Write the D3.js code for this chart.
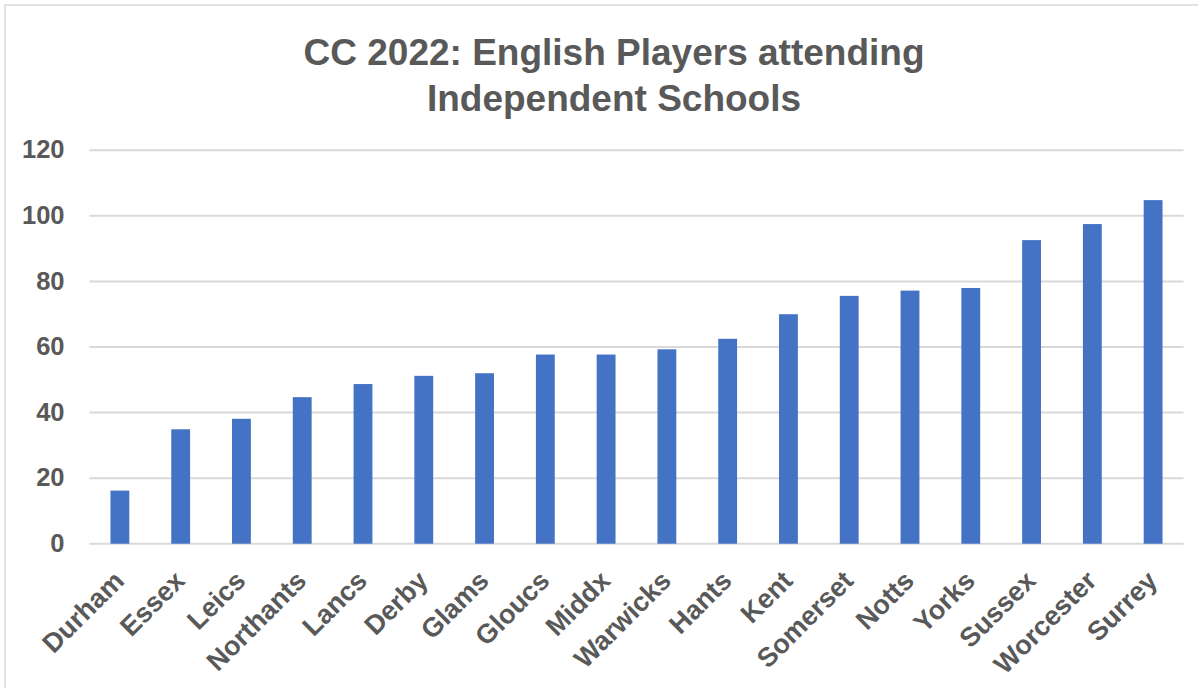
<!DOCTYPE html>
<html>
<head>
<meta charset="utf-8">
<script src="https://cdn.jsdelivr.net/npm/d3@7"></script>
<style>
  body { margin: 0; background: #fff; }
  text { font-family: "Liberation Sans", Arial, sans-serif; font-weight: bold; fill: #595959; }
</style>
</head>
<body>
<div id="chart"></div>
<script>
// counties, ordered as in the chart
const counties = ["Durham", "Essex", "Leics", "Northants", "Lancs", "Derby", "Glams", "Gloucs",
  "Middx", "Warwicks", "Hants", "Kent", "Somerset", "Notts", "Yorks", "Sussex", "Worcester", "Surrey"];

// values
const players = [16.2, 34.9, 38.1, 44.7, 48.7, 51.2, 52, 57.7, 57.7, 59.3, 62.5, 70, 75.6, 77.2, 78, 92.6, 97.5, 104.8];

const yTicks = [0, 20, 40, 60, 80, 100, 120];
const titleLines = ["CC 2022: English Players attending", "Independent Schools"];

const width = 1198;
const height = 688;
const margin = { top: 150.3, right: 14.5, bottom: 144.3, left: 89.5 };

const svg = d3.select("#chart")
  .append("svg")
  .attr("width", width)
  .attr("height", height);

// chart border (runs off the right and bottom edges like the picture)
svg.append("rect")
  .attr("x", 5).attr("y", 5)
  .attr("width", width).attr("height", height)
  .attr("fill", "none")
  .attr("stroke", "#d9d9d9")
  .attr("stroke-width", 1.5);

const x = d3.scaleBand()
  .domain(counties)
  .range([margin.left, width - margin.right])
  .paddingInner(0.69)
  .paddingOuter(0.345);

const y = d3.scaleLinear()
  .domain([0, 120])
  .range([height - margin.bottom, margin.top]);

// gridlines
svg.append("g")
  .selectAll("line")
  .data(yTicks)
  .join("line")
  .attr("x1", margin.left)
  .attr("x2", width - margin.right)
  .attr("y1", d => y(d))
  .attr("y2", d => y(d))
  .attr("stroke", "#d9d9d9")
  .attr("stroke-width", 2);

// y axis labels
svg.append("g")
  .selectAll("text")
  .data(yTicks)
  .join("text")
  .attr("x", 64.5)
  .attr("y", d => y(d))
  .attr("dy", "0.32em")
  .attr("text-anchor", "end")
  .style("font-size", "25.5px")
  .text(d => d);

// bars
svg.append("g")
  .selectAll("rect")
  .data(players)
  .join("rect")
  .attr("x", (d, i) => x(counties[i]))
  .attr("width", x.bandwidth())
  .attr("y", d => y(d))
  .attr("height", d => y(0) - y(d))
  .attr("fill", "#4472c4");

// rotated category labels
svg.append("g")
  .selectAll("text")
  .data(counties)
  .join("text")
  .attr("transform", d => `translate(${x(d) + x.bandwidth() / 2},${y(0) + 33}) rotate(-45)`)
  .attr("dy", "0.3em")
  .attr("text-anchor", "end")
  .style("font-size", "27px")
  .text(d => d);

// title
svg.append("text")
  .attr("x", 614)
  .attr("y", 65)
  .attr("text-anchor", "middle")
  .style("font-size", "37px")
  .selectAll("tspan")
  .data(titleLines)
  .join("tspan")
  .attr("x", 614)
  .attr("dy", (d, i) => i === 0 ? 0 : 46)
  .text(d => d);
</script>
</body>
</html>
